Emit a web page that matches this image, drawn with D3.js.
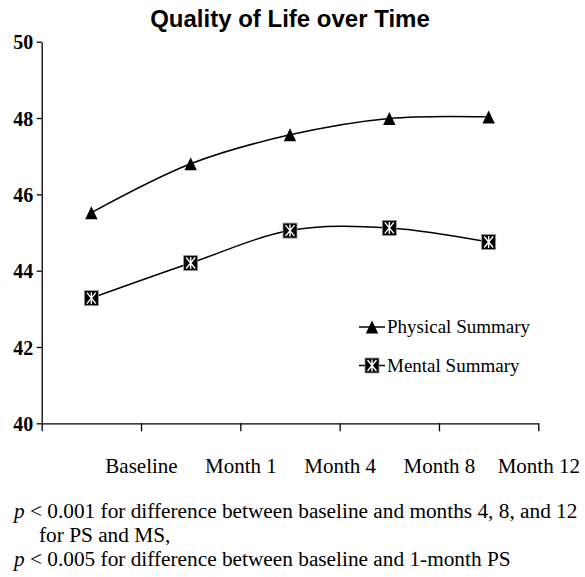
<!DOCTYPE html>
<html>
<head>
<meta charset="utf-8">
<script src="https://cdn.jsdelivr.net/npm/d3@7"></script>
<style>
  html, body { margin: 0; padding: 0; background: #fff; }
  svg { display: block; }
</style>
</head>
<body>
<svg id="chart" width="585" height="577"></svg>
<script>
// Time points and mean summary scores
const categories = ["Baseline", "Month 1", "Month 4", "Month 8", "Month 12"];
const physicalSummary = [45.52, 46.80, 47.56, 47.99, 48.03];
const mentalSummary = [43.28, 44.20, 45.05, 45.12, 44.75];
const yTickValues = [40, 42, 44, 46, 48, 50];
const seriesNames = ["Physical Summary", "Mental Summary"];
const footnotes = [
  { italic: "p", rest: " < 0.001 for difference between baseline and months 4, 8, and 12", indent: 0 },
  { italic: "", rest: "for PS and MS,", indent: 1 },
  { italic: "p", rest: " < 0.005 for difference between baseline and 1-month PS", indent: 0 }
];

const svg = d3.select("#chart");
const plotLeft = 41.7, plotRight = 538.3, plotTop = 41.7, plotBottom = 423.3;

const y = d3.scaleLinear().domain([40, 50]).range([plotBottom, plotTop]);
const x = d3.scaleBand().domain(categories).range([plotLeft, plotRight]).paddingInner(0).paddingOuter(0);
// Tick positions sit on band boundaries; labels land on the right edge of each band
const xEdge = d3.scaleLinear().domain([0, categories.length]).range([plotLeft, plotRight]);

// Title
svg.append("text")
  .attr("x", 290).attr("y", 27)
  .attr("text-anchor", "middle")
  .style("font-family", "Arial, 'Liberation Sans', sans-serif")
  .style("font-weight", "bold")
  .style("font-size", "24px")
  .text("Quality of Life over Time");

// Y axis
const yAxis = svg.append("g")
  .attr("transform", `translate(${plotLeft},0)`)
  .call(d3.axisLeft(y).tickValues(yTickValues).tickSize(5).tickPadding(3.5).tickSizeOuter(0));
yAxis.selectAll("text")
  .style("font-family", "'Liberation Serif', 'Times New Roman', serif")
  .style("font-weight", "bold")
  .style("font-size", "20px")
  .attr("dy", "0.36em")
  .attr("fill", "#000");

// X axis
const xAxis = svg.append("g")
  .attr("transform", `translate(0,${plotBottom})`)
  .call(d3.axisBottom(xEdge)
    .tickValues(d3.range(0, categories.length + 1))
    .tickSize(8).tickPadding(27).tickSizeOuter(0)
    .tickFormat(i => i > 0 ? categories[i - 1] : ""));
xAxis.selectAll("text")
  .style("font-family", "'Liberation Serif', 'Times New Roman', serif")
  .style("font-size", "21px")
  .attr("fill", "#000");

svg.selectAll(".domain, .tick line").attr("stroke", "#000").attr("stroke-width", 1.3);

// Smoothed lines
const line = d3.line()
  .x((d, i) => x(categories[i]) + x.bandwidth() / 2)
  .y(d => y(d))
  .curve(d3.curveCatmullRom.alpha(0));

[physicalSummary, mentalSummary].forEach(vals => {
  svg.append("path")
    .datum(vals)
    .attr("d", line)
    .attr("fill", "none")
    .attr("stroke", "#000")
    .attr("stroke-width", 1.5);
});

// Marker drawing helpers
function triangle(g) {
  g.append("path").attr("d", "M0,-6.5L6.2,6.5L-6.2,6.5Z").attr("fill", "#000");
}
function starSquare(g) {
  g.append("rect").attr("x", -7).attr("y", -7.5).attr("width", 14).attr("height", 15)
    .attr("fill", "#000").attr("stroke", "#999").attr("stroke-width", 0.8);
  g.append("path")
    .attr("d", "M-4.5,-5.5L4.5,5.5M4.5,-5.5L-4.5,5.5M0,-6L0,6")
    .attr("stroke", "#fff").attr("stroke-width", 1.4).attr("fill", "none");
}

physicalSummary.forEach((v, i) => {
  svg.append("g")
    .attr("transform", `translate(${x(categories[i]) + x.bandwidth() / 2},${y(v)})`)
    .call(triangle);
});
mentalSummary.forEach((v, i) => {
  svg.append("g")
    .attr("transform", `translate(${x(categories[i]) + x.bandwidth() / 2},${y(v)})`)
    .call(starSquare);
});

// Legend
const legend = svg.append("g");
const legendRows = [
  { name: seriesNames[0], marker: triangle, cy: 327 },
  { name: seriesNames[1], marker: starSquare, cy: 365.5 }
];
legendRows.forEach(r => {
  legend.append("line")
    .attr("x1", 359).attr("x2", 385).attr("y1", r.cy).attr("y2", r.cy)
    .attr("stroke", "#000").attr("stroke-width", 1.5);
  legend.append("g").attr("transform", `translate(372,${r.cy})`).call(r.marker);
  legend.append("text")
    .attr("x", 387).attr("y", r.cy + 6)
    .style("font-family", "'Liberation Serif', 'Times New Roman', serif")
    .style("font-size", "19px")
    .text(r.name);
});

// Footnote
const noteBaselines = [518, 542, 566];
footnotes.forEach((f, i) => {
  const t = svg.append("text")
    .attr("x", f.indent ? 39 : 14)
    .attr("y", noteBaselines[i])
    .style("font-family", "'Liberation Serif', 'Times New Roman', serif")
    .style("font-size", "21.3px");
  if (f.italic) t.append("tspan").style("font-style", "italic").text(f.italic);
  t.append("tspan").text(f.rest);
});
</script>
</body>
</html>
